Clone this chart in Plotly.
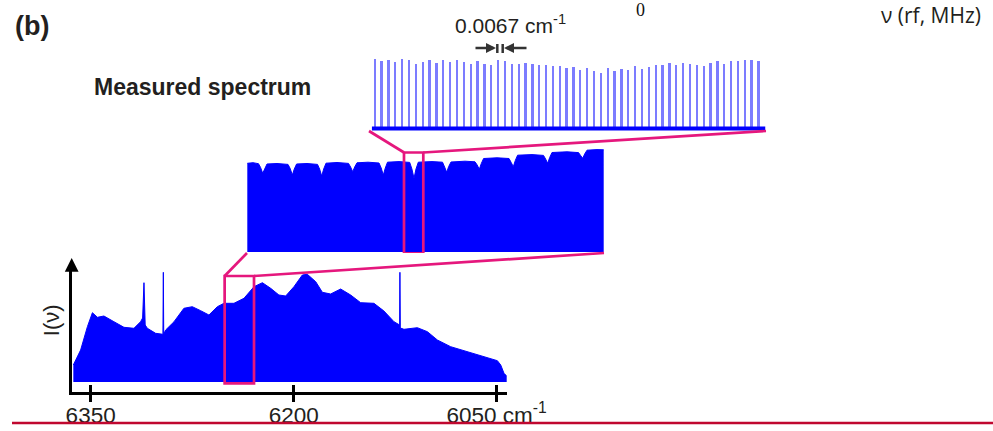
import plotly.graph_objects as go

W, H = 993, 431

# ---------------- data ----------------
# Full measured spectrum (bottom panel): wavenumber (cm-1) and intensity (arb.)
WAVENUMBER = [6362.8, 6357.4, 6352.4, 6348.7, 6345.0, 6340.2, 6332.8, 6325.4, 6318.0, 6313.1,
              6311.6, 6310.6, 6309.7, 6308.1, 6302.0, 6296.6, 6296.3, 6296.0, 6294.6, 6288.4,
              6281.1, 6274.9, 6268.7, 6262.6, 6256.4, 6251.5, 6244.1, 6236.7, 6229.3, 6223.1,
              6217.0, 6210.9, 6205.9, 6199.8, 6193.6, 6189.9, 6183.7, 6178.8, 6172.7, 6165.3,
              6157.9, 6150.5, 6140.7, 6133.3, 6125.9, 6121.7, 6121.5, 6121.2, 6118.5, 6108.6,
              6101.2, 6093.8, 6084.0, 6071.7, 6061.8, 6049.5, 6047.0, 6044.6, 6042.1]
INTENSITY = [17, 32, 55.3, 69.3, 64.7, 66, 60.3, 54.7, 53.7, 60.3,
             64, 99.3, 57, 53.7, 48.7, 47.7, 109.7, 48, 52, 60.3,
             73.7, 75.3, 71.3, 67, 75.3, 78.7, 78.7, 83.7, 95.3, 99.3,
             93.7, 87, 86, 95.3, 107, 107.7, 100.3, 89.7, 88, 93,
             87, 79.3, 78.7, 71, 60.3, 57, 109.7, 54, 52.7, 54.3,
             50.3, 42, 35.3, 30.3, 27, 21.3, 17, 8.7, 5.3]
TICK_VALS = [6350, 6200, 6050]
TICK_TEXT = ["6350", "6200", "6050 cm<sup>-1</sup>"]
ZOOM1 = [6251.0, 6229.3]          # cm-1 window shown in middle panel

# Middle panel: zoomed spectrum envelope (relative position, intensity)
MID_X = [0.3, 6, 11.5, 13.6, 15.7, 17.7, 20,
         30, 41, 43.2, 45.3, 47.3, 49.6,
         60, 70.5, 72.6, 74.7, 76.7, 79,
         90, 101.5, 103.6, 105.7, 107.7, 110,
         121, 132, 134.2, 136.3, 138.3, 140.5,
         152, 162.7, 164.9, 167, 169, 171.3,
         185, 195.5, 197.6, 199.7, 201.7, 204,
         218, 228, 230.2, 232.3, 234.3, 236.6,
         250, 262, 264.2, 266.3, 268.3, 270.6,
         285, 296.5, 298.6, 300.7, 302.7, 305,
         320, 331.5, 333.6, 335.7, 337.7, 340,
         350, 356.7]
MID_I = [88.7, 89.3, 88.3, 84.5, 78.7, 84, 88,
         88.5, 87.6, 83.5, 77, 83, 88,
         88.5, 87.6, 83, 76, 83, 88.8,
         89.5, 88.6, 85, 80.3, 85, 89.2,
         89.8, 89, 84, 77, 84, 89.8,
         90.4, 89.6, 83, 73.7, 83, 89.8,
         90.4, 89.8, 85, 79.7, 85.5, 90,
         90.8, 90.2, 87, 82.7, 88.5, 93.5,
         94.2, 93.5, 89.5, 85.3, 91.5, 96.8,
         97.4, 96.6, 93, 88.7, 94.5, 99.5,
         100.2, 99.4, 96.5, 93.7, 98, 101.8,
         102.4, 102.2]
ZOOM2 = [157.0, 176.3]            # window of middle panel shown in top panel

# Top panel: resolved comb lines (index, peak height)
COMB_INDEX = list(range(57))
COMB_HEIGHT = [71, 69, 70.3, 68.3, 71.3, 69.7, 66, 67.7, 70, 67,
               69.7, 68, 69.7, 68, 66, 68.7, 66, 65, 69.7, 68.7,
               66, 66, 66.7, 65.7, 64.7, 64.7, 64, 64,
               62.3, 62.7, 60, 61.7, 58.7, 56.7, 61.7, 59, 60.7, 60,
               64.3, 61, 63, 65, 64.7, 67, 64.7, 67, 66, 64.7,
               63.7, 66.7, 68.7, 66, 68.7, 68.7, 69.7, 69.7, 68.7]
NOISE_FLOOR = 1.5

# ---------------- geometry helpers ----------------
def px(x):
    return x / W


def py(y):
    return 1 - y / H


X1_DOM = [px(71.7), px(506.7)]
X1_RNG = [6364.0, 6042.6]
Y1_DOM = [py(392), py(266)]
Y1_RNG = [-10, 116]

X2_DOM = [px(247), px(604)]
X2_RNG = [0, 357]
Y2_DOM = [py(253), py(148)]
Y2_RNG = [-1, 104]

X3_DOM = [px(369), px(766)]
X3_RNG = [-0.876, 57.06]
Y3_DOM = [py(131), py(52)]
Y3_RNG = [-1, 78]


def to_paper(dom, rng, v):
    return dom[0] + (v - rng[0]) / (rng[1] - rng[0]) * (dom[1] - dom[0])


BLUE = "#0000ff"
MAGENTA = "#e5177d"
DARK = "#231f20"
FONT = "Liberation Sans, Arial, sans-serif"

fig = go.Figure()

fig.add_trace(go.Scatter(x=WAVENUMBER, y=INTENSITY, mode="lines", fill="tozeroy",
                         fillcolor=BLUE, line=dict(color=BLUE, width=1),
                         xaxis="x", yaxis="y", hoverinfo="skip"))
fig.add_trace(go.Scatter(x=[], y=[], xaxis="x4", yaxis="y", hoverinfo="skip"))
fig.add_trace(go.Scatter(x=MID_X, y=MID_I, mode="lines", fill="tozeroy",
                         fillcolor=BLUE, line=dict(color=BLUE, width=1),
                         xaxis="x2", yaxis="y2", hoverinfo="skip"))
fig.add_trace(go.Bar(x=COMB_INDEX, y=COMB_HEIGHT, width=0.26,
                     marker=dict(color="#7c7cff", line=dict(width=0)),
                     xaxis="x3", yaxis="y3", hoverinfo="skip"))
fig.add_trace(go.Scatter(x=[COMB_INDEX[0] - 0.45, COMB_INDEX[-1] + 0.95],
                         y=[NOISE_FLOOR, NOISE_FLOOR], mode="lines",
                         line=dict(color=BLUE, width=4),
                         xaxis="x3", yaxis="y3", hoverinfo="skip"))

hidden = dict(visible=False, showgrid=False, zeroline=False, fixedrange=True,
              automargin=False)

fig.update_layout(
    template="none",
    width=W, height=H, margin=dict(l=0, r=0, t=0, b=0, pad=0, autoexpand=False),
    autosize=False,
    paper_bgcolor="white", plot_bgcolor="rgba(0,0,0,0)",
    showlegend=False, bargap=0,
    font=dict(family=FONT, color=DARK),
    xaxis=dict(domain=X1_DOM, range=X1_RNG, anchor="y", automargin=False,
               tickvals=TICK_VALS, ticktext=TICK_TEXT,
               ticks="outside", ticklen=7, tickwidth=2.5, tickcolor="black",
               ticklabelstandoff=-6,
               showline=True, linewidth=2.5, linecolor="black",
               showgrid=False, zeroline=False,
               tickfont=dict(size=22.5, color=DARK, family=FONT)),
    xaxis4=dict(domain=X1_DOM, range=X1_RNG, anchor="y", overlaying="x",
                automargin=False,
                tickvals=TICK_VALS, ticks="inside", ticklen=7, tickwidth=2.5,
                tickcolor="black", showticklabels=False, showline=False,
                showgrid=False, zeroline=False),
    yaxis=dict(domain=Y1_DOM, range=Y1_RNG, anchor="x", automargin=False,
               showline=True, linewidth=2.5, linecolor="black",
               ticks="", showticklabels=False, showgrid=False, zeroline=False),
    xaxis2=dict(domain=X2_DOM, range=X2_RNG, anchor="y2", **hidden),
    yaxis2=dict(domain=Y2_DOM, range=Y2_RNG, anchor="x2", **hidden),
    xaxis3=dict(domain=X3_DOM, range=X3_RNG, anchor="y3", **hidden),
    yaxis3=dict(domain=Y3_DOM, range=Y3_RNG, anchor="x3", **hidden),
)

# zoom boxes
box1_top = max(i for w, i in zip(WAVENUMBER, INTENSITY) if ZOOM1[1] <= w <= ZOOM1[0]) + 10.7
box2_top = max(i for x, i in zip(MID_X, MID_I) if ZOOM2[0] <= x <= ZOOM2[1]) + 9.7
mag = dict(color=MAGENTA, width=2.7)
fig.add_shape(type="rect", xref="x", yref="y", x0=ZOOM1[0], x1=ZOOM1[1],
              y0=-1.3, y1=box1_top, line=mag)
fig.add_shape(type="rect", xref="x2", yref="y2", x0=ZOOM2[0], x1=ZOOM2[1],
              y0=-1.3, y1=box2_top, line=mag)

# connectors
b1l = (to_paper(X1_DOM, X1_RNG, ZOOM1[0]), to_paper(Y1_DOM, Y1_RNG, box1_top))
b1r = (to_paper(X1_DOM, X1_RNG, ZOOM1[1]), to_paper(Y1_DOM, Y1_RNG, box1_top))
b2l = (to_paper(X2_DOM, X2_RNG, ZOOM2[0]), to_paper(Y2_DOM, Y2_RNG, box2_top))
b2r = (to_paper(X2_DOM, X2_RNG, ZOOM2[1]), to_paper(Y2_DOM, Y2_RNG, box2_top))
for p0, p1 in [(b1l, (X2_DOM[0], Y2_DOM[0])), (b1r, (X2_DOM[1], Y2_DOM[0])),
               (b2l, (X3_DOM[0], Y3_DOM[0])), (b2r, (X3_DOM[1], Y3_DOM[0]))]:
    fig.add_shape(type="line", xref="paper", yref="paper",
                  x0=p0[0], y0=p0[1], x1=p1[0], y1=p1[1], line=mag)

# spacing marker bars
for bx in (497.3, 502.7):
    fig.add_shape(type="line", xref="paper", yref="paper",
                  x0=px(bx), x1=px(bx), y0=py(44), y1=py(53),
                  line=dict(color="#333333", width=2.5))

# bottom rule
fig.add_shape(type="line", xref="paper", yref="paper",
              x0=px(12), x1=1, y0=py(423), y1=py(423),
              line=dict(color="#c0072f", width=2.5))


def txt(x, y, s, size, bold=False, family=FONT, angle=0, color=DARK):
    fig.add_annotation(x=px(x), y=py(y), xref="paper", yref="paper",
                       text=f"<b>{s}</b>" if bold else s, showarrow=False,
                       xanchor="center", yanchor="middle", textangle=angle,
                       font=dict(size=size, family=family, color=color))


txt(31.7, 25.5, "(b)", 27, bold=True)
txt(202.5, 87, "Measured spectrum", 23, bold=True)
txt(510.7, 24, "0.0067 cm<sup>-1</sup>", 21)
txt(640, 9.5, "0", 18, family="Liberation Serif, Times New Roman, serif", color="#111111")
txt(931, 15.3, "ν (rf, MHz)", 21, family="Open Sans, Liberation Sans, sans-serif")
txt(51.7, 320.5, "I(ν)", 22, angle=-90)

# spacing arrows
for head, off in ((496, -22), (504, 24)):
    fig.add_annotation(x=px(head), y=py(48), xref="paper", yref="paper",
                       ax=off, ay=0, text="", showarrow=True, arrowhead=2,
                       arrowsize=0.8, arrowwidth=2.5, arrowcolor="#333333")

# y-axis arrow
fig.add_annotation(x=px(71.7), y=py(258), xref="paper", yref="paper",
                   ax=0, ay=14, text="", showarrow=True, arrowhead=2,
                   arrowsize=1.1, arrowwidth=2.5, arrowcolor="black")

POST = ("document.documentElement.style.margin='0';"
        "document.body.style.margin='0';"
        "document.body.style.padding='0';"
        "document.documentElement.style.overflow='hidden';"
        "document.body.style.overflow='hidden';")

fig.write_html("out.html", post_script=POST,
               config={"displayModeBar": False, "responsive": False})
